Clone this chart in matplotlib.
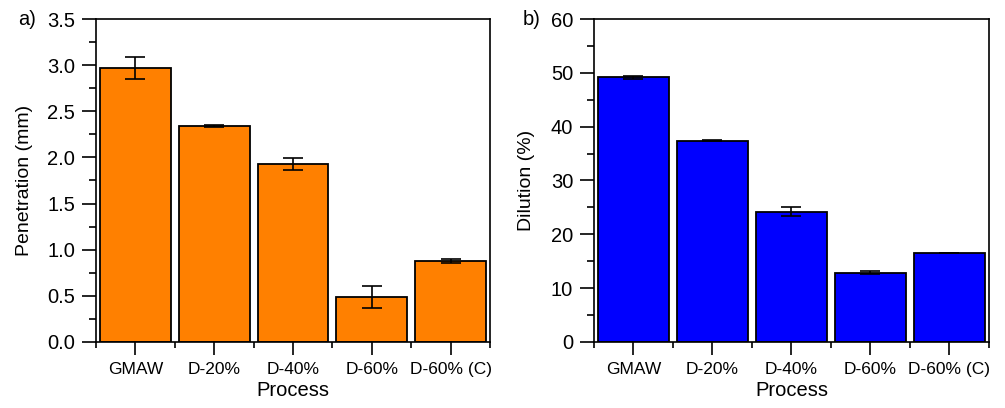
import numpy as np
from matplotlib import pyplot as plt
from matplotlib.ticker import MultipleLocator, FixedLocator

plt.rcParams['font.family'] = ['Liberation Sans', 'DejaVu Sans']

processes = ['GMAW', 'D-20%', 'D-40%', 'D-60%', 'D-60% (C)']
penetration = [2.97, 2.34, 1.93, 0.49, 0.88]
penetration_err = [0.12, 0.01, 0.065, 0.12, 0.02]
dilution = [49.2, 37.4, 24.2, 12.9, 16.5]
dilution_err = [0.3, 0.1, 0.8, 0.35, 0.05]

fig = plt.figure(figsize=(10.05, 4.08), dpi=100)
ax1 = fig.add_axes([0.0955, 0.1618, 0.392, 0.7916])
ax2 = fig.add_axes([0.591, 0.1618, 0.393, 0.7916])


def draw(ax, vals, errs, color, ylabel, ymax, major, tag, tag_x, ypad):
    x = np.arange(1, len(vals) + 1)
    ax.bar(x, vals, width=0.9, color=color, edgecolor='black', linewidth=1.3, zorder=2)
    ax.errorbar(x, vals, yerr=errs, fmt='none', ecolor='black', elinewidth=1.2,
                capsize=7.5, capthick=1.2, zorder=3)
    ax.set_xlim(0.5, len(vals) + 0.5)
    ax.set_ylim(0, ymax)
    ax.xaxis.set_major_locator(FixedLocator(x))
    ax.xaxis.set_minor_locator(FixedLocator(np.arange(0.5, len(vals) + 1, 1.0)))
    ax.set_xticklabels(processes)
    ax.yaxis.set_major_locator(MultipleLocator(major))
    ax.yaxis.set_minor_locator(MultipleLocator(major / 2))
    ax.tick_params(axis='y', which='major', direction='out', length=10, width=1.2,
                   labelsize=14.5, pad=5)
    ax.tick_params(axis='y', which='minor', direction='out', length=5, width=1.2)
    ax.tick_params(axis='x', which='major', direction='out', length=9.5, width=1.2,
                   labelsize=12.5, pad=5)
    ax.tick_params(axis='x', which='minor', direction='out', length=4.5, width=1.2)
    ax.tick_params(top=False, right=False, which='both')
    for s in ax.spines.values():
        s.set_linewidth(1.2)
    ax.set_xlabel('Process', fontsize=14.5, labelpad=3)
    ax.set_ylabel(ylabel, fontsize=14, labelpad=ypad)
    ax.text(tag_x, 1.0, tag, transform=ax.transAxes, fontsize=14.5, ha='left', va='center')


draw(ax1, penetration, penetration_err, '#ff8000', 'Penetration (mm)', 3.5, 0.5, 'a)', -0.198, 10)
ax1.yaxis.set_major_formatter(plt.FormatStrFormatter('%.1f'))
draw(ax2, dilution, dilution_err, '#0000ff', 'Dilution (%)', 60, 10, 'b)', -0.18, 11.5)

fig.savefig('out.png', dpi=100)
